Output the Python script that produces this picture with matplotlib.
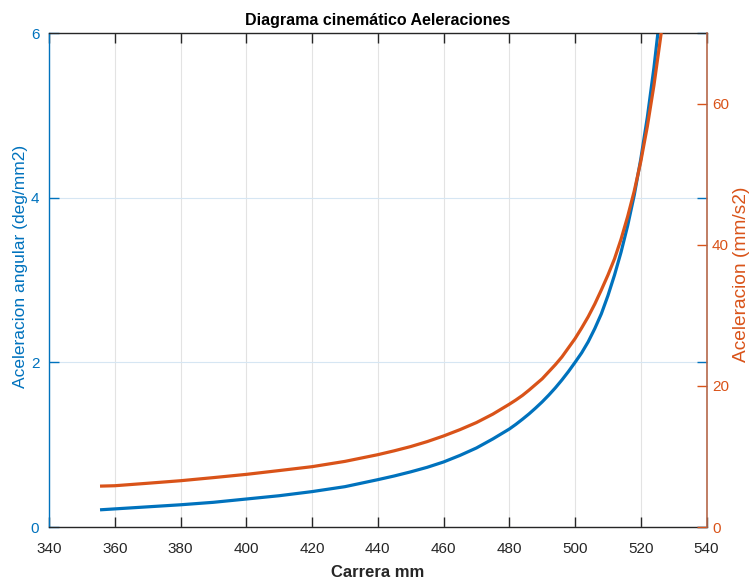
import matplotlib
matplotlib.use("Agg")
import matplotlib.pyplot as plt

plt.rcParams['font.family'] = ['Liberation Sans', 'DejaVu Sans']

# Stroke position (mm)
carrera = [356, 360, 370, 380, 390, 400, 410, 420, 430, 440, 445, 450, 455,
           460, 465, 470, 475, 480, 482, 484, 486, 488, 490, 492, 494, 496,
           498, 500, 502, 504, 506, 508, 510, 512, 514, 516, 518, 520, 522,
           524, 526, 528]
# Angular acceleration (deg/mm2)
acel_angular = [0.21, 0.22, 0.245, 0.27, 0.30, 0.34, 0.38, 0.43, 0.49, 0.575,
                0.62, 0.67, 0.725, 0.79, 0.87, 0.96, 1.07, 1.19, 1.247, 1.309,
                1.374, 1.445, 1.52, 1.602, 1.69, 1.786, 1.889, 2.0, 2.115,
                2.25, 2.41, 2.59, 2.81, 3.06, 3.34, 3.66, 4.03, 4.47, 4.98,
                5.58, 6.28, 7.0]
# Linear acceleration (mm/s2)
acel_lineal = [5.8, 5.85, 6.2, 6.56, 7.0, 7.46, 8.0, 8.55, 9.3, 10.25, 10.8,
               11.4, 12.1, 12.9, 13.8, 14.8, 16.0, 17.4, 18.0, 18.65, 19.4,
               20.2, 21.0, 22.0, 23.0, 24.1, 25.4, 26.7, 28.2, 29.8, 31.6,
               33.6, 35.7, 38.0, 40.8, 44.0, 47.6, 51.8, 56.8, 62.6, 69.3,
               76.5]

x_ticks = [340, 360, 380, 400, 420, 440, 460, 480, 500, 520, 540]
left_ticks = [0, 2, 4, 6]
right_ticks = [0, 20, 40, 60]

BLUE = '#0072BD'
ORANGE = '#D95319'
DARK = '#262626'

fig = plt.figure(figsize=(7.53, 5.79), dpi=100)
ax = fig.add_axes([0.0651, 0.0898, 0.8732, 0.853])
ax2 = ax.twinx()

ax.plot(carrera, acel_angular, color=BLUE, lw=2.3)
ax2.plot(carrera, acel_lineal, color=ORANGE, lw=2.3)

ax.set_xlim(340, 540)
ax.set_ylim(0, 6)
ax2.set_ylim(0, 70)
ax.set_xticks(x_ticks)
ax.set_yticks(left_ticks)
ax2.set_yticks(right_ticks)

# grid: vertical grey lines, horizontal lines following the left ruler
ax.xaxis.grid(True, color='#e3e3e3', lw=0.8)
ax.yaxis.grid(True, color='#d6e6f3', lw=0.8)
ax.set_axisbelow(True)

ax.tick_params(axis='x', direction='in', length=7, width=1, colors=DARK,
               top=True, labelsize=11, pad=11)
ax.tick_params(axis='y', direction='in', length=7, width=1, colors=BLUE,
               right=True, labelsize=11, pad=7)
ax2.tick_params(axis='y', direction='in', length=7, width=1, colors=ORANGE,
                labelsize=11, pad=4)

ax.spines['left'].set_color(BLUE)
ax.spines['top'].set_color(DARK)
ax.spines['bottom'].set_color(DARK)
ax.spines['right'].set_visible(False)
ax2.spines['right'].set_color('#b5674a')
ax2.spines['left'].set_visible(False)
ax2.spines['top'].set_visible(False)
ax2.spines['bottom'].set_visible(False)
for s in ax.spines.values():
    s.set_linewidth(1)
ax2.spines['right'].set_linewidth(1.2)

ax.set_ylabel('Aceleracion angular (deg/mm2)', color=BLUE, fontsize=12.5,
              va='center')
ax.yaxis.set_label_coords(-0.044, 0.528)
ax2.set_ylabel('Aceleracion (mm/s2)', color=ORANGE, fontsize=13.8,
               va='center')
ax2.yaxis.set_label_coords(1.0525, 0.512)
ax.set_xlabel('Carrera mm', color=DARK, fontsize=12, fontweight='bold',
              labelpad=6)
ax.set_title('Diagrama cinemático Aeleraciones', fontsize=11.5,
             fontweight='bold', color='black', pad=6)

fig.savefig('out.png', dpi=100)
